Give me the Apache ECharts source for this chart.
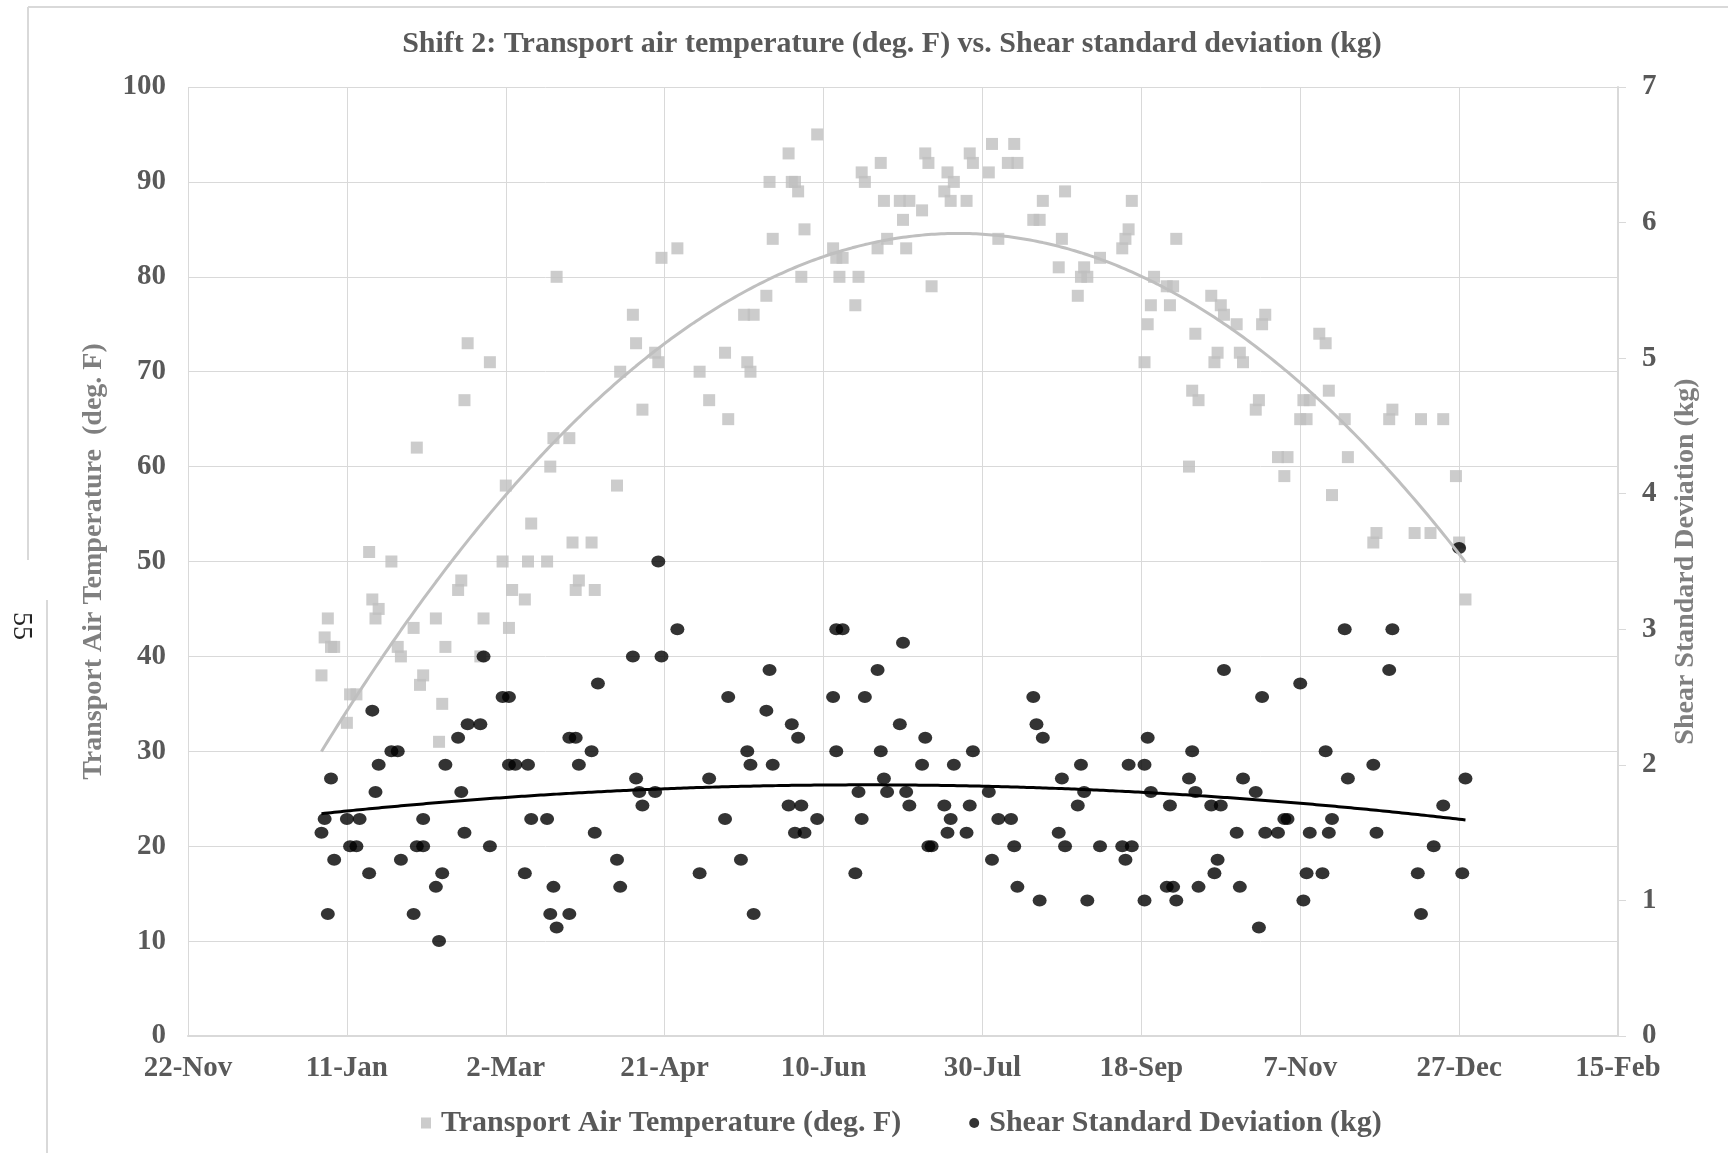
<!DOCTYPE html>
<html>
<head>
<meta charset="utf-8">
<script src="https://cdn.jsdelivr.net/npm/echarts@6/dist/echarts.min.js"></script>
<style>
html,body{margin:0;padding:0;background:#fff;}
#chart{width:1728px;height:1153px;}
</style>
</head>
<body>
<div id="chart"></div>
<script>
// Day offsets are counted from 22-Nov (day 0)
const xTickLabels = ['22-Nov','11-Jan','2-Mar','21-Apr','10-Jun','30-Jul','18-Sep','7-Nov','27-Dec','15-Feb'];
const leftTicks = [0,10,20,30,40,50,60,70,80,90,100];
const rightTicks = [0,1,2,3,4,5,6,7];

const tempDays = [42,43,44,45,46,50,51,53,57,58,59,60,64,66,67,71,72,73,74,78,79,80,81,85,86,87,88,92,93,95,
  99,100,101,102,106,107,108,113,114,115,116,120,121,122,123,127,128,135,136,140,141,143,147,148,149,154,
  161,164,169,170,175,176,177,178,182,183,184,189,190,191,192,193,194,198,203,204,205,206,210,211,212,213,
  217,218,219,220,224,225,226,227,231,232,233,234,238,239,240,241,245,246,247,252,253,255,258,260,261,
  266,268,269,274,275,276,280,281,282,283,287,294,295,296,297,301,302,303,304,308,309,310,311,315,316,317,318,
  322,323,324,325,326,330,331,332,336,337,338,339,343,345,346,350,351,352,353,356,358,359,360,364,365,
  373,374,378,379,386,388,391,395,399,400,402];
const tempVals = [38,42,44,41,41,33,36,36,51,46,44,45,50,41,40,43,62,37,38,44,31,35,41,47,48,67,73,40,44,71,
  50,58,43,47,46,50,54,50,60,63,80,63,52,47,48,52,47,58,70,76,73,66,72,71,82,83,
  70,67,72,65,76,71,70,76,78,90,84,93,90,90,89,80,85,95,83,82,80,82,77,80,91,90,
  83,92,88,84,88,86,83,88,87,93,92,79,89,91,88,90,88,93,92,91,94,84,92,94,92,
  86,86,88,81,84,89,78,80,81,80,82,83,84,85,88,71,75,77,80,79,77,79,84,60,68,74,67,
  78,71,72,77,76,75,72,71,66,67,75,76,61,59,61,65,67,65,67,74,73,68,57,65,61,
  52,53,65,66,53,65,53,65,59,52,46];

const shearDays = [42,43,44,45,46,50,51,53,54,57,58,59,60,64,66,67,71,72,74,74,78,79,80,81,85,86,87,88,92,93,95,
  99,101,101,103,106,107,108,113,114,115,116,120,120,122,123,127,128,129,135,136,140,141,142,143,147,148,149,154,
  161,164,169,170,174,176,177,178,182,183,184,189,190,191,192,193,194,198,203,204,204,206,210,211,212,213,
  217,218,219,220,224,225,226,227,231,232,233,234,238,239,240,241,245,246,247,252,253,255,259,260,261,
  266,267,268,269,274,275,276,280,281,282,283,287,294,295,296,297,301,301,302,303,308,309,310,311,315,316,317,318,
  322,323,324,325,326,330,331,332,336,337,338,339,343,345,346,350,351,352,353,357,358,359,360,364,365,
  373,374,378,379,387,388,392,395,400,401,402];
const shearVals = [1.5,1.6,0.9,1.9,1.3,1.6,1.4,1.4,1.6,1.2,2.4,1.8,2.0,2.1,2.1,1.3,0.9,1.4,1.4,1.6,1.1,0.7,1.2,2.0,2.2,1.8,1.5,2.3,2.3,2.8,1.4,
  2.5,2.5,2.0,2.0,1.2,2.0,1.6,1.6,0.9,1.1,0.8,0.9,2.2,2.2,2.0,2.1,1.5,2.6,1.3,1.1,2.8,1.9,1.8,1.7,1.8,3.5,2.8,3.0,
  1.2,1.9,1.6,2.5,1.3,2.1,2.0,0.9,2.4,2.7,2.0,1.7,2.3,1.5,2.2,1.7,1.5,1.6,2.5,2.1,3.0,3.0,1.2,1.8,1.6,2.5,
  2.7,2.1,1.9,1.8,2.3,2.9,1.8,1.7,2.0,2.2,1.4,1.4,1.7,1.5,1.6,2.0,1.5,1.7,2.1,1.8,1.3,1.6,1.6,1.4,1.1,
  2.5,2.3,1.0,2.2,1.5,1.9,1.4,1.7,2.0,1.8,1.0,1.4,1.4,1.3,2.0,1.4,1.0,2.0,2.2,1.8,1.1,1.7,1.1,1.0,1.9,2.1,1.8,1.1,
  1.7,1.2,1.3,1.7,2.7,1.5,1.1,1.9,1.8,0.8,2.5,1.5,1.5,1.6,1.6,2.6,1.0,1.2,1.5,1.2,2.1,1.5,1.6,3.0,1.9,
  2.0,1.5,2.7,3.0,1.2,0.9,1.4,1.7,3.6,1.2,1.9];

const tempName = 'Transport Air Temperature (deg. F)';
const shearName = 'Shear Standard Deviation (kg)';

// Excel-style 2nd order polynomial trendline computed from the data
function quadFit(xs, ys) {
  let S = [0,0,0,0,0], T = [0,0,0];
  for (let i = 0; i < xs.length; i++) {
    let x = xs[i], p = 1;
    for (let k = 0; k < 5; k++) { S[k] += p; if (k < 3) T[k] += p * ys[i]; p *= x; }
  }
  const A = [[S[0],S[1],S[2],T[0]],[S[1],S[2],S[3],T[1]],[S[2],S[3],S[4],T[2]]];
  for (let c = 0; c < 3; c++) {
    for (let r = c + 1; r < 3; r++) {
      const f = A[r][c] / A[c][c];
      for (let k = c; k < 4; k++) A[r][k] -= f * A[c][k];
    }
  }
  const b = [0,0,0];
  for (let r = 2; r >= 0; r--) {
    let s = A[r][3];
    for (let k = r + 1; k < 3; k++) s -= A[r][k] * b[k];
    b[r] = s / A[r][r];
  }
  return b;
}
function trendPoints(xs, ys) {
  const b = quadFit(xs, ys);
  const lo = Math.min(...xs), hi = Math.max(...xs);
  const pts = [];
  for (let x = lo; x <= hi; x += 1) pts.push([x, b[0] + b[1]*x + b[2]*x*x]);
  return pts;
}

const tempData = tempDays.map((d, i) => [d, tempVals[i]]);
const shearData = shearDays.map((d, i) => [d, shearVals[i]]);

const FONT = '"Liberation Serif", "Times New Roman", serif';
const chart = echarts.init(document.getElementById('chart'), null, {renderer: 'canvas'});
chart.setOption({
  backgroundColor: '#ffffff',
  animation: false,
  textStyle: {fontFamily: FONT},
  title: {
    text: 'Shift 2: Transport air temperature (deg. F) vs. Shear standard deviation (kg)',
    left: 887, top: 24, textAlign: 'center',
    textStyle: {fontFamily: FONT, fontWeight: 'bold', fontSize: 30, color: '#595959'}
  },
  legend: {
    data: [
      {name: tempName, icon: 'rect'},
      {name: shearName, icon: 'circle'}
    ],
    left: 416, top: 1103,
    itemWidth: 10, itemHeight: 11, itemGap: 68,
    textStyle: {fontFamily: FONT, fontWeight: 'bold', fontSize: 30, color: '#595959', padding: [0, 0, 0, 5]}
  },
  grid: {left: 188, right: 110, top: 87, bottom: 117, containLabel: false},
  xAxis: {
    type: 'value', min: 0, max: 450, interval: 50,
    axisLine: {show: true, lineStyle: {color: '#D9D9D9', width: 2}},
    axisTick: {show: false},
    splitLine: {show: true, lineStyle: {color: '#D9D9D9', width: 1}},
    axisLabel: {
      margin: 18, color: '#595959', fontFamily: FONT, fontWeight: 'bold', fontSize: 29,
      formatter: v => xTickLabels[Math.round(v / 50)]
    }
  },
  yAxis: [
    {
      type: 'value', min: leftTicks[0], max: leftTicks[leftTicks.length - 1], interval: 10,
      name: 'Transport Air Temperature  (deg. F)', nameLocation: 'middle', nameRotate: 90, nameGap: 80,
      nameTextStyle: {fontFamily: FONT, fontWeight: 'bold', fontSize: 28, color: '#7F7F7F'},
      axisLine: {show: false}, axisTick: {show: false},
      splitLine: {show: true, lineStyle: {color: '#D9D9D9', width: 1}},
      axisLabel: {margin: 22, color: '#595959', fontFamily: FONT, fontWeight: 'bold', fontSize: 29}
    },
    {
      type: 'value', min: rightTicks[0], max: rightTicks[rightTicks.length - 1], interval: 1, position: 'right',
      name: 'Shear Standard Deviation (kg)', nameLocation: 'middle', nameRotate: 90, nameGap: 54,
      nameTextStyle: {fontFamily: FONT, fontWeight: 'bold', fontSize: 28, color: '#7F7F7F'},
      axisLine: {show: true, lineStyle: {color: '#D9D9D9', width: 2}},
      axisTick: {show: true, length: 8, lineStyle: {color: '#D9D9D9', width: 1}},
      splitLine: {show: false},
      axisLabel: {margin: 24, color: '#595959', fontFamily: FONT, fontWeight: 'bold', fontSize: 29}
    }
  ],
  series: [
    {
      name: tempName, type: 'scatter', yAxisIndex: 0, data: tempData,
      symbol: 'rect', symbolSize: 12,
      itemStyle: {color: '#BFBFBF'}
    },
    {
      name: shearName, type: 'scatter', yAxisIndex: 1, data: shearData,
      symbol: 'circle', symbolSize: [14, 12],
      itemStyle: {color: '#000000'}
    },
    {
      name: 'tempTrend', type: 'line', yAxisIndex: 0, data: trendPoints(tempDays, tempVals),
      showSymbol: false, symbol: 'none', smooth: false,
      lineStyle: {color: '#BFBFBF', width: 3}
    },
    {
      name: 'shearTrend', type: 'line', yAxisIndex: 1, data: trendPoints(shearDays, shearVals),
      showSymbol: false, symbol: 'none', smooth: false,
      lineStyle: {color: '#000000', width: 3}
    }
  ],
  graphic: [
    {type: 'line', shape: {x1: 28, y1: 7, x2: 1728, y2: 7}, style: {stroke: '#D9D9D9', lineWidth: 2}},
    {type: 'line', shape: {x1: 28, y1: 7, x2: 28, y2: 560}, style: {stroke: '#D9D9D9', lineWidth: 2}},
    {type: 'line', shape: {x1: 47, y1: 600, x2: 47, y2: 1153}, style: {stroke: '#D9D9D9', lineWidth: 2}},
    {type: 'text', x: 35, y: 612, rotation: -Math.PI / 2,
      style: {text: '55', font: '28px "Liberation Serif", serif', fill: '#222222'}}
  ]
});
</script>
</body>
</html>
